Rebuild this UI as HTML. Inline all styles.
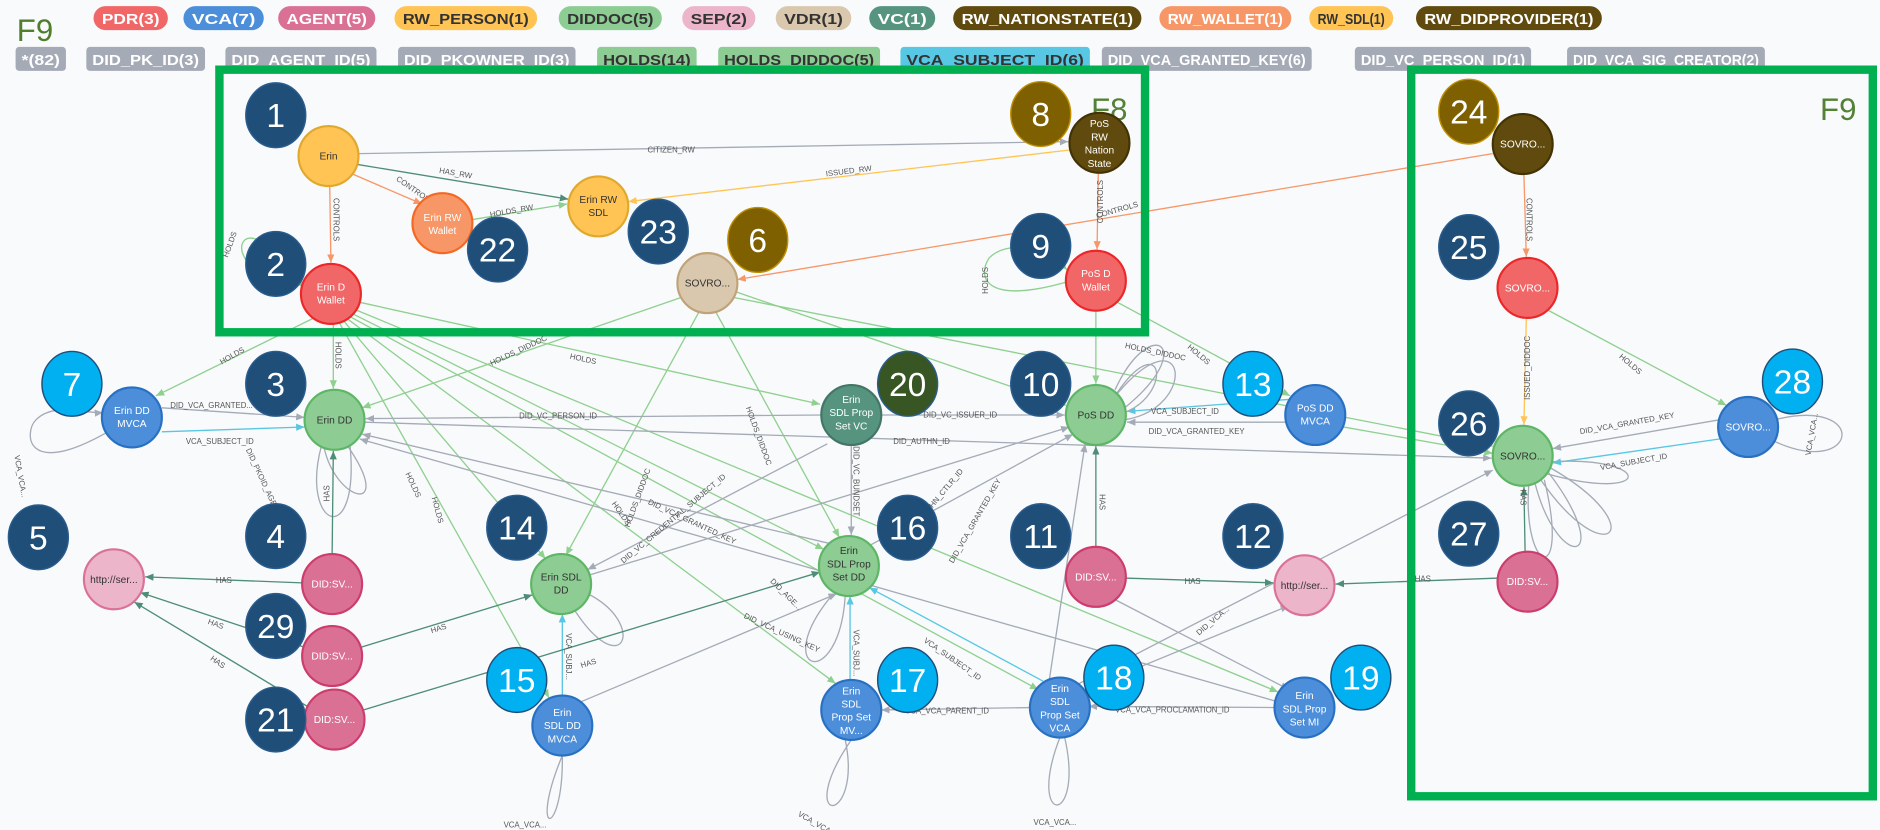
<!DOCTYPE html>
<html><head><meta charset="utf-8"><style>
html,body{margin:0;padding:0;background:#f8fafc;}
svg{display:block;font-family:"Liberation Sans",sans-serif;}
.bd text{font-size:12px;font-weight:bold;}
.e{fill:none;stroke-width:1.1;}
.g{stroke:#8fd08f;} .gr{stroke:#a5abb6;} .t{stroke:#4e8d76;} .o{stroke:#f79767;} .y{stroke:#ffc454;} .b{stroke:#57c7e3;}
.l{font-size:6.5px;fill:#555;}
.n text{font-size:8.5px;text-anchor:middle;}
.num text{font-size:28px;fill:#fff;text-anchor:middle;}
</style></head><body>
<svg width="1880" height="830" viewBox="0 0 1568 692" xmlns="http://www.w3.org/2000/svg">
<defs>
<marker id="ag" markerWidth="8" markerHeight="8" refX="7" refY="3" orient="auto" markerUnits="userSpaceOnUse"><path d="M0,0L7,3L0,6z" fill="#8fd08f"/></marker>
<marker id="agr" markerWidth="8" markerHeight="8" refX="7" refY="3" orient="auto" markerUnits="userSpaceOnUse"><path d="M0,0L7,3L0,6z" fill="#a5abb6"/></marker>
<marker id="at" markerWidth="8" markerHeight="8" refX="7" refY="3" orient="auto" markerUnits="userSpaceOnUse"><path d="M0,0L7,3L0,6z" fill="#4e8d76"/></marker>
<marker id="ao" markerWidth="8" markerHeight="8" refX="7" refY="3" orient="auto" markerUnits="userSpaceOnUse"><path d="M0,0L7,3L0,6z" fill="#f79767"/></marker>
<marker id="ay" markerWidth="8" markerHeight="8" refX="7" refY="3" orient="auto" markerUnits="userSpaceOnUse"><path d="M0,0L7,3L0,6z" fill="#ffc454"/></marker>
<marker id="ab" markerWidth="8" markerHeight="8" refX="7" refY="3" orient="auto" markerUnits="userSpaceOnUse"><path d="M0,0L7,3L0,6z" fill="#57c7e3"/></marker>
</defs>
<rect width="1568" height="692" fill="#f8fafc"/>
<text x="14" y="34" font-size="26" fill="#4f7f2a">F9</text>
<!-- badges -->
<g class="bd">
<rect x="78" y="5" width="62" height="20" rx="10" fill="#f16667"/><text x="85" y="20" fill="#fff" textLength="48" lengthAdjust="spacingAndGlyphs">PDR(3)</text>
<rect x="153" y="5" width="67" height="20" rx="10" fill="#4c8eda"/><text x="160" y="20" fill="#fff" textLength="53" lengthAdjust="spacingAndGlyphs">VCA(7)</text>
<rect x="232" y="5" width="81" height="20" rx="10" fill="#da7194"/><text x="239" y="20" fill="#fff" textLength="67" lengthAdjust="spacingAndGlyphs">AGENT(5)</text>
<rect x="329" y="5" width="119" height="20" rx="10" fill="#ffc454"/><text x="336" y="20" fill="#333" textLength="105" lengthAdjust="spacingAndGlyphs">RW_PERSON(1)</text>
<rect x="466" y="5" width="86" height="20" rx="10" fill="#8dcc93"/><text x="473" y="20" fill="#333" textLength="72" lengthAdjust="spacingAndGlyphs">DIDDOC(5)</text>
<rect x="569" y="5" width="61" height="20" rx="10" fill="#ecb5c9"/><text x="576" y="20" fill="#333" textLength="47" lengthAdjust="spacingAndGlyphs">SEP(2)</text>
<rect x="647" y="5" width="63" height="20" rx="10" fill="#d9c8ae"/><text x="654" y="20" fill="#333" textLength="49" lengthAdjust="spacingAndGlyphs">VDR(1)</text>
<rect x="725" y="5" width="55" height="20" rx="10" fill="#569480"/><text x="732" y="20" fill="#fff" textLength="41" lengthAdjust="spacingAndGlyphs">VC(1)</text>
<rect x="795" y="5" width="157" height="20" rx="10" fill="#604a0e"/><text x="802" y="20" fill="#fff" textLength="143" lengthAdjust="spacingAndGlyphs">RW_NATIONSTATE(1)</text>
<rect x="967" y="5" width="110" height="20" rx="10" fill="#f79767"/><text x="974" y="20" fill="#fff" textLength="96" lengthAdjust="spacingAndGlyphs">RW_WALLET(1)</text>
<rect x="1092" y="5" width="70" height="20" rx="10" fill="#ffc454"/><text x="1099" y="20" fill="#333" textLength="56" lengthAdjust="spacingAndGlyphs">RW_SDL(1)</text>
<rect x="1181" y="5" width="155" height="20" rx="10" fill="#604a0e"/><text x="1188" y="20" fill="#fff" textLength="141" lengthAdjust="spacingAndGlyphs">RW_DIDPROVIDER(1)</text>
<rect x="13" y="39" width="42" height="20" rx="3" fill="#a5abb6"/><text x="18" y="54" fill="#fff" textLength="32" lengthAdjust="spacingAndGlyphs">*(82)</text>
<rect x="72" y="39" width="99" height="20" rx="3" fill="#a5abb6"/><text x="77" y="54" fill="#fff" textLength="89" lengthAdjust="spacingAndGlyphs">DID_PK_ID(3)</text>
<rect x="188" y="39" width="126" height="20" rx="3" fill="#a5abb6"/><text x="193" y="54" fill="#fff" textLength="116" lengthAdjust="spacingAndGlyphs">DID_AGENT_ID(5)</text>
<rect x="332" y="39" width="148" height="20" rx="3" fill="#a5abb6"/><text x="337" y="54" fill="#fff" textLength="138" lengthAdjust="spacingAndGlyphs">DID_PKOWNER_ID(3)</text>
<rect x="498" y="39" width="83" height="20" rx="3" fill="#8dcc93"/><text x="503" y="54" fill="#333" textLength="73" lengthAdjust="spacingAndGlyphs">HOLDS(14)</text>
<rect x="599" y="39" width="135" height="20" rx="3" fill="#8dcc93"/><text x="604" y="54" fill="#333" textLength="125" lengthAdjust="spacingAndGlyphs">HOLDS_DIDDOC(5)</text>
<rect x="751" y="39" width="158" height="20" rx="3" fill="#57c7e3"/><text x="756" y="54" fill="#333" textLength="148" lengthAdjust="spacingAndGlyphs">VCA_SUBJECT_ID(6)</text>
<rect x="919" y="39" width="175" height="20" rx="3" fill="#a5abb6"/><text x="924" y="54" fill="#fff" textLength="165" lengthAdjust="spacingAndGlyphs">DID_VCA_GRANTED_KEY(6)</text>
<rect x="1130" y="39" width="147" height="20" rx="3" fill="#a5abb6"/><text x="1135" y="54" fill="#fff" textLength="137" lengthAdjust="spacingAndGlyphs">DID_VC_PERSON_ID(1)</text>
<rect x="1307" y="39" width="165" height="20" rx="3" fill="#a5abb6"/><text x="1312" y="54" fill="#fff" textLength="155" lengthAdjust="spacingAndGlyphs">DID_VCA_SIG_CREATOR(2)</text>
</g>
<!-- edges -->
<g class="e">
<line class="gr" x1="299" y1="128" x2="891" y2="118" marker-end="url(#agr)"/>
<line class="t" x1="298" y1="137" x2="474" y2="166" marker-end="url(#at)"/>
<line class="o" x1="294" y1="145" x2="352" y2="170" marker-end="url(#ao)"/>
<line class="o" x1="275" y1="155" x2="276" y2="219" marker-end="url(#ao)"/>
<line class="g" x1="394" y1="183" x2="473" y2="170" marker-end="url(#ag)"/>
<line class="y" x1="892" y1="125" x2="524" y2="168" marker-end="url(#ay)"/>
<line class="o" x1="916" y1="145" x2="915" y2="208" marker-end="url(#ao)"/>
<line class="o" x1="1245" y1="128" x2="615" y2="233" marker-end="url(#ao)"/>
<path class="g" d="M252,238 C190,230 195,190 215,200 C225,205 240,220 253,240" marker-end="url(#ag)"/>
<path class="g" d="M890,235 C820,255 815,230 825,215 C840,200 870,205 890,225" marker-end="url(#ag)"/>
<line class="g" x1="262" y1="265" x2="130" y2="330" marker-end="url(#ag)"/>
<line class="g" x1="278" y1="270" x2="278" y2="324" marker-end="url(#ag)"/>
<line class="g" x1="300" y1="252" x2="684" y2="337" marker-end="url(#ag)"/>
<line class="g" x1="295" y1="262" x2="687" y2="458" marker-end="url(#ag)"/>
<line class="g" x1="290" y1="266" x2="697" y2="570" marker-end="url(#ag)"/>
<line class="g" x1="292" y1="264" x2="866" y2="575" marker-end="url(#ag)"/>
<line class="g" x1="296" y1="258" x2="1066" y2="577" marker-end="url(#ag)"/>
<line class="g" x1="283" y1="269" x2="458" y2="582" marker-end="url(#ag)"/>
<line class="g" x1="287" y1="268" x2="455" y2="466" marker-end="url(#ag)"/>
<line class="g" x1="568" y1="248" x2="302" y2="340" marker-end="url(#ag)"/>
<line class="g" x1="583" y1="260" x2="472" y2="463" marker-end="url(#ag)"/>
<line class="g" x1="597" y1="260" x2="700" y2="448" marker-end="url(#ag)"/>
<line class="g" x1="613" y1="243" x2="889" y2="338" marker-end="url(#ag)"/>
<line class="g" x1="612" y1="248" x2="1245" y2="372" marker-end="url(#ag)"/>
<line class="g" x1="914" y1="259" x2="914" y2="320" marker-end="url(#ag)"/>
<line class="g" x1="932" y1="252" x2="1076" y2="330" marker-end="url(#ag)"/>
<line class="gr" x1="135" y1="340" x2="254" y2="348" marker-end="url(#agr)"/>
<line class="b" x1="135" y1="360" x2="254" y2="356" marker-end="url(#ab)"/>
<line class="gr" x1="686" y1="346" x2="305" y2="349" marker-end="url(#agr)"/>
<line class="gr" x1="735" y1="346" x2="888" y2="346" marker-end="url(#agr)"/>
<line class="gr" x1="304" y1="352" x2="1244" y2="382" marker-end="url(#agr)"/>
<line class="gr" x1="1073" y1="352" x2="940" y2="352" marker-end="url(#agr)"/>
<line class="b" x1="1075" y1="333" x2="940" y2="343" marker-end="url(#ab)"/>
<line class="gr" x1="700" y1="455" x2="302" y2="362" marker-end="url(#agr)"/>
<line class="gr" x1="1065" y1="585" x2="300" y2="366" marker-end="url(#agr)"/>
<line class="gr" x1="690" y1="370" x2="490" y2="475" marker-end="url(#agr)"/>
<line class="gr" x1="490" y1="480" x2="892" y2="356" marker-end="url(#agr)"/>
<line class="gr" x1="725" y1="455" x2="895" y2="362" marker-end="url(#agr)"/>
<line class="gr" x1="875" y1="568" x2="905" y2="370" marker-end="url(#agr)"/>
<line class="gr" x1="710" y1="371" x2="710" y2="446" marker-end="url(#agr)"/>
<line class="gr" x1="485" y1="585" x2="698" y2="495" marker-end="url(#agr)"/>
<line class="gr" x1="900" y1="570" x2="1245" y2="392" marker-end="url(#agr)"/>
<line class="gr" x1="905" y1="575" x2="1075" y2="505" marker-end="url(#agr)"/>
<line class="gr" x1="930" y1="500" x2="1075" y2="575" marker-end="url(#agr)"/>
<line class="gr" x1="1064" y1="590" x2="908" y2="589" marker-end="url(#agr)"/>
<line class="gr" x1="860" y1="590" x2="735" y2="592" marker-end="url(#agr)"/>
<line class="b" x1="870" y1="568" x2="725" y2="490" marker-end="url(#ab)"/>
<line class="b" x1="709" y1="567" x2="709" y2="497" marker-end="url(#ab)"/>
<line class="b" x1="469" y1="580" x2="469" y2="512" marker-end="url(#ab)"/>
<line class="gr" x1="1434" y1="350" x2="1295" y2="374" marker-end="url(#agr)"/>
<line class="b" x1="1434" y1="366" x2="1295" y2="386" marker-end="url(#ab)"/>
<path class="gr" d="M90,360 C20,400 20,360 30,350 C45,335 70,345 86,344" marker-end="url(#agr)"/>
<path class="gr" d="M469,630 C440,700 470,700 469,630"/>
<path class="gr" d="M710,617 C660,690 720,690 705,617"/>
<path class="gr" d="M884,615 C855,690 905,690 888,615"/>
<path class="gr" d="M1480,350 C1560,330 1550,400 1480,368"/>
<path class="gr" d="M290,372 C330,430 280,420 270,372"/>
<path class="gr" d="M292,372 C300,460 250,440 268,372"/>
<path class="gr" d="M930,330 C970,270 980,330 935,345"/>
<path class="gr" d="M932,328 C990,260 1000,340 938,350"/>
<path class="gr" d="M930,325 C960,260 1000,290 938,340"/>
<path class="gr" d="M1290,392 C1350,470 1300,480 1280,402"/>
<path class="gr" d="M1293,390 C1380,440 1340,480 1285,400"/>
<path class="gr" d="M1294,385 C1380,380 1380,420 1290,395"/>
<path class="gr" d="M1288,400 C1310,490 1270,480 1275,405"/>
<path class="gr" d="M490,495 C540,520 520,570 480,510"/>
<path class="gr" d="M695,495 C640,560 700,580 705,496"/>
<line class="t" x1="277" y1="462" x2="278" y2="376" marker-end="url(#at)"/>
<line class="t" x1="252" y1="486" x2="121" y2="481" marker-end="url(#at)"/>
<line class="t" x1="255" y1="540" x2="117" y2="494" marker-end="url(#at)"/>
<line class="t" x1="300" y1="540" x2="444" y2="496" marker-end="url(#at)"/>
<line class="t" x1="258" y1="590" x2="112" y2="502" marker-end="url(#at)"/>
<line class="t" x1="303" y1="592" x2="684" y2="477" marker-end="url(#at)"/>
<line class="t" x1="914" y1="456" x2="914" y2="372" marker-end="url(#at)"/>
<line class="t" x1="938" y1="482" x2="1062" y2="486" marker-end="url(#at)"/>
<line class="t" x1="1250" y1="482" x2="1114" y2="487" marker-end="url(#at)"/>
<line class="t" x1="1272" y1="460" x2="1271" y2="406" marker-end="url(#at)"/>
<line class="o" x1="1271" y1="145" x2="1273" y2="214" marker-end="url(#ao)"/>
<line class="y" x1="1273" y1="266" x2="1271" y2="354" marker-end="url(#ay)"/>
<line class="g" x1="1290" y1="258" x2="1440" y2="338" marker-end="url(#ag)"/>
<line class="g" x1="1115" y1="355" x2="1245" y2="378" marker-end="url(#ag)"/>
</g>
<g class="l">
<text x="540" y="127">CITIZEN_RW</text>
<text x="366" y="144" transform="rotate(10 366 144)">HAS_RW</text>
<text x="330" y="150" transform="rotate(35 330 150)">CONTROLS</text>
<text x="278" y="165" transform="rotate(90 278 165)">CONTROLS</text>
<text x="409" y="181" transform="rotate(-10 409 181)">HOLDS_RW</text>
<text x="689" y="147" transform="rotate(-7 689 147)">ISSUED_RW</text>
<text x="920" y="150" transform="rotate(-90 920 150)" text-anchor="end">CONTROLS</text>
<text x="915" y="182" transform="rotate(-16 915 182)">CONTROLS</text>
<text x="190" y="215" transform="rotate(-70 190 215)">HOLDS</text>
<text x="824" y="245" transform="rotate(-90 824 245)">HOLDS</text>
<text x="185" y="304" transform="rotate(-30 185 304)">HOLDS</text>
<text x="280" y="285" transform="rotate(90 280 285)">HOLDS</text>
<text x="410" y="305" transform="rotate(-25 410 305)">HOLDS_DIDDOC</text>
<text x="475" y="299" transform="rotate(12 475 299)">HOLDS</text>
<text x="142" y="340">DID_VCA_GRANTED...</text>
<text x="155" y="370">VCA_SUBJECT_ID</text>
<text x="433" y="349">DID_VC_PERSON_ID</text>
<text x="770" y="348">DID_VC_ISSUER_ID</text>
<text x="745" y="370">DID_AUTHN_ID</text>
<text x="958" y="362">DID_VCA_GRANTED_KEY</text>
<text x="1318" y="362" transform="rotate(-10 1318 362)">DID_VCA_GRANTED_KEY</text>
<text x="1335" y="392" transform="rotate(-10 1335 392)">VCA_SUBJECT_ID</text>
<text x="1273" y="165" transform="rotate(90 1273 165)">CONTROLS</text>
<text x="1276" y="280" transform="rotate(-90 1276 280)" text-anchor="end">ISSUED_DIDDOC</text>
<text x="1350" y="298" transform="rotate(40 1350 298)">HOLDS</text>
<text x="1268" y="408" transform="rotate(90 1268 408)">HAS</text>
<text x="275" y="418" transform="rotate(-90 275 418)">HAS</text>
<text x="180" y="486">HAS</text>
<text x="173" y="520" transform="rotate(20 173 520)">HAS</text>
<text x="175" y="550" transform="rotate(35 175 550)">HAS</text>
<text x="360" y="528" transform="rotate(-17 360 528)">HAS</text>
<text x="485" y="557" transform="rotate(-17 485 557)">HAS</text>
<text x="988" y="487">HAS</text>
<text x="917" y="412" transform="rotate(90 917 412)">HAS</text>
<text x="1180" y="485">HAS</text>
<text x="338" y="395" transform="rotate(65 338 395)">HOLDS</text>
<text x="360" y="415" transform="rotate(75 360 415)">HOLDS</text>
<text x="510" y="420" transform="rotate(55 510 420)">HOLDS</text>
<text x="525" y="440" transform="rotate(-70 525 440)">HOLDS_DIDDOC</text>
<text x="622" y="340" transform="rotate(70 622 340)">HOLDS_DIDDOC</text>
<text x="520" y="470" transform="rotate(-40 520 470)">DID_VC_CREDENTIAL_SUBJECT_ID</text>
<text x="540" y="420" transform="rotate(25 540 420)">DID_VCA_GRANTED_KEY</text>
<text x="620" y="515" transform="rotate(25 620 515)">DID_VCA_USING_KEY</text>
<text x="760" y="445" transform="rotate(-50 760 445)">DID_AUTHN_CTLR_ID</text>
<text x="795" y="470" transform="rotate(-60 795 470)">DID_VCA_GRANTED_KEY</text>
<text x="712" y="372" transform="rotate(90 712 372)">DID_VC_BUNDSET</text>
<text x="712" y="525" transform="rotate(90 712 525)">VCA_SUBJ...</text>
<text x="472" y="528" transform="rotate(90 472 528)">VCA_SUBJ...</text>
<text x="770" y="535" transform="rotate(35 770 535)">VCA_SUBJECT_ID</text>
<text x="755" y="595">VCA_VCA_PARENT_ID</text>
<text x="930" y="594">VCA_VCA_PROCLAMATION_ID</text>
<text x="1000" y="530" transform="rotate(-40 1000 530)">DID_VCA...</text>
<text x="938" y="290" transform="rotate(12 938 290)">HOLDS_DIDDOC</text>
<text x="990" y="290" transform="rotate(40 990 290)">HOLDS</text>
<text x="960" y="345">VCA_SUBJECT_ID</text>
<text x="12" y="380" transform="rotate(80 12 380)">VCA_VCA...</text>
<text x="1510" y="380" transform="rotate(-80 1510 380)">VCA_VCA...</text>
<text x="420" y="690">VCA_VCA...</text>
<text x="665" y="680" transform="rotate(30 665 680)">VCA_VCA...</text>
<text x="862" y="688">VCA_VCA...</text>
<text x="205" y="375" transform="rotate(65 205 375)">DID_PKOID_AGE</text>
<text x="642" y="485" transform="rotate(45 642 485)">DID_AGE...</text>
</g>
<rect x="183" y="58" width="772" height="219" fill="none" stroke="#00b050" stroke-width="7"/>
<rect x="1177" y="58" width="385" height="606" fill="none" stroke="#00b050" stroke-width="7"/>
<text x="910" y="100" font-size="26" fill="#538135">F8</text>
<text x="1518" y="100" font-size="26" fill="#538135">F9</text>
<g class="n" stroke-width="1.8">
<circle cx="274" cy="130" r="25" fill="#ffc454" stroke="#e0a92e"/><text x="274" y="133" fill="#333" stroke="none">Erin</text>
<circle cx="276" cy="245" r="25" fill="#f16667" stroke="#eb2728"/><text x="276" y="242" fill="#fff" stroke="none">Erin D</text><text x="276" y="253" fill="#fff" stroke="none">Wallet</text>
<circle cx="369" cy="186" r="25" fill="#f79767" stroke="#f36924"/><text x="369" y="184" fill="#fff" stroke="none">Erin RW</text><text x="369" y="195" fill="#fff" stroke="none">Wallet</text>
<circle cx="499" cy="172" r="25" fill="#ffc454" stroke="#e0a92e"/><text x="499" y="169" fill="#333" stroke="none">Erin RW</text><text x="499" y="180" fill="#333" stroke="none">SDL</text>
<circle cx="590" cy="236" r="25" fill="#d9c8ae" stroke="#c0a378"/><text x="590" y="239" fill="#333" stroke="none">SOVRO...</text>
<circle cx="917" cy="119" r="25" fill="#604a0e" stroke="#423204"/><text x="917" y="106" fill="#fff" stroke="none">PoS</text><text x="917" y="117" fill="#fff" stroke="none">RW</text><text x="917" y="128" fill="#fff" stroke="none">Nation</text><text x="917" y="139" fill="#fff" stroke="none">State</text>
<circle cx="914" cy="234" r="25" fill="#f16667" stroke="#eb2728"/><text x="914" y="231" fill="#fff" stroke="none">PoS D</text><text x="914" y="242" fill="#fff" stroke="none">Wallet</text>
<circle cx="110" cy="348" r="25" fill="#4c8eda" stroke="#2870c2"/><text x="110" y="345" fill="#fff" stroke="none">Erin DD</text><text x="110" y="356" fill="#fff" stroke="none">MVCA</text>
<circle cx="279" cy="350" r="25" fill="#8dcc93" stroke="#5db665"/><text x="279" y="353" fill="#333" stroke="none">Erin DD</text>
<circle cx="710" cy="346" r="25" fill="#569480" stroke="#447666"/><text x="710" y="336" fill="#fff" stroke="none">Erin</text><text x="710" y="347" fill="#fff" stroke="none">SDL Prop</text><text x="710" y="358" fill="#fff" stroke="none">Set VC</text>
<circle cx="914" cy="346" r="25" fill="#8dcc93" stroke="#5db665"/><text x="914" y="349" fill="#333" stroke="none">PoS DD</text>
<circle cx="1097" cy="346" r="25" fill="#4c8eda" stroke="#2870c2"/><text x="1097" y="343" fill="#fff" stroke="none">PoS DD</text><text x="1097" y="354" fill="#fff" stroke="none">MVCA</text>
<circle cx="1270" cy="120" r="25" fill="#604a0e" stroke="#423204"/><text x="1270" y="123" fill="#fff" stroke="none">SOVRO...</text>
<circle cx="1274" cy="240" r="25" fill="#f16667" stroke="#eb2728"/><text x="1274" y="243" fill="#fff" stroke="none">SOVRO...</text>
<circle cx="1270" cy="380" r="25" fill="#8dcc93" stroke="#5db665"/><text x="1270" y="383" fill="#333" stroke="none">SOVRO...</text>
<circle cx="1458" cy="356" r="25" fill="#4c8eda" stroke="#2870c2"/><text x="1458" y="359" fill="#fff" stroke="none">SOVRO...</text>
<circle cx="1274" cy="485" r="25" fill="#da7194" stroke="#cc3c6c"/><text x="1274" y="488" fill="#fff" stroke="none">DID:SV...</text>
<circle cx="95" cy="483" r="25" fill="#ecb5c9" stroke="#da7298"/><text x="95" y="486" fill="#333" stroke="none">http://ser...</text>
<circle cx="277" cy="487" r="25" fill="#da7194" stroke="#cc3c6c"/><text x="277" y="490" fill="#fff" stroke="none">DID:SV...</text>
<circle cx="277" cy="547" r="25" fill="#da7194" stroke="#cc3c6c"/><text x="277" y="550" fill="#fff" stroke="none">DID:SV...</text>
<circle cx="279" cy="600" r="25" fill="#da7194" stroke="#cc3c6c"/><text x="279" y="603" fill="#fff" stroke="none">DID:SV...</text>
<circle cx="468" cy="487" r="25" fill="#8dcc93" stroke="#5db665"/><text x="468" y="484" fill="#333" stroke="none">Erin SDL</text><text x="468" y="495" fill="#333" stroke="none">DD</text>
<circle cx="469" cy="605" r="25" fill="#4c8eda" stroke="#2870c2"/><text x="469" y="597" fill="#fff" stroke="none">Erin</text><text x="469" y="608" fill="#fff" stroke="none">SDL DD</text><text x="469" y="619" fill="#fff" stroke="none">MVCA</text>
<circle cx="708" cy="472" r="25" fill="#8dcc93" stroke="#5db665"/><text x="708" y="462" fill="#333" stroke="none">Erin</text><text x="708" y="473" fill="#333" stroke="none">SDL Prop</text><text x="708" y="484" fill="#333" stroke="none">Set DD</text>
<circle cx="710" cy="592" r="25" fill="#4c8eda" stroke="#2870c2"/><text x="710" y="579" fill="#fff" stroke="none">Erin</text><text x="710" y="590" fill="#fff" stroke="none">SDL</text><text x="710" y="601" fill="#fff" stroke="none">Prop Set</text><text x="710" y="612" fill="#fff" stroke="none">MV...</text>
<circle cx="884" cy="590" r="25" fill="#4c8eda" stroke="#2870c2"/><text x="884" y="577" fill="#fff" stroke="none">Erin</text><text x="884" y="588" fill="#fff" stroke="none">SDL</text><text x="884" y="599" fill="#fff" stroke="none">Prop Set</text><text x="884" y="610" fill="#fff" stroke="none">VCA</text>
<circle cx="1088" cy="590" r="25" fill="#4c8eda" stroke="#2870c2"/><text x="1088" y="583" fill="#fff" stroke="none">Erin</text><text x="1088" y="594" fill="#fff" stroke="none">SDL Prop</text><text x="1088" y="605" fill="#fff" stroke="none">Set MI</text>
<circle cx="914" cy="481" r="25" fill="#da7194" stroke="#cc3c6c"/><text x="914" y="484" fill="#fff" stroke="none">DID:SV...</text>
<circle cx="1088" cy="488" r="25" fill="#ecb5c9" stroke="#da7298"/><text x="1088" y="491" fill="#333" stroke="none">http://ser...</text>
</g>
<g class="num" stroke-width="1.2">
<g fill="#1f4e79" stroke="#2a5d8f">
<ellipse cx="230" cy="96" rx="25" ry="27"/><ellipse cx="230" cy="220" rx="25" ry="27"/><ellipse cx="415" cy="208" rx="25" ry="27"/><ellipse cx="549" cy="193" rx="25" ry="27"/><ellipse cx="868" cy="205" rx="25" ry="27"/><ellipse cx="230" cy="320" rx="25" ry="27"/><ellipse cx="868" cy="320" rx="25" ry="27"/><ellipse cx="1225" cy="206" rx="25" ry="27"/><ellipse cx="1225" cy="353" rx="25" ry="27"/><ellipse cx="1225" cy="445" rx="25" ry="27"/><ellipse cx="32" cy="448" rx="25" ry="27"/><ellipse cx="230" cy="447" rx="25" ry="27"/><ellipse cx="431" cy="440" rx="25" ry="27"/><ellipse cx="757" cy="440" rx="25" ry="27"/><ellipse cx="868" cy="447" rx="25" ry="27"/><ellipse cx="1045" cy="447" rx="25" ry="27"/><ellipse cx="230" cy="522" rx="25" ry="27"/><ellipse cx="230" cy="600" rx="25" ry="27"/>
</g>
<g fill="#7f6000" stroke="#bf9000"><ellipse cx="632" cy="200" rx="25" ry="27"/><ellipse cx="868" cy="95" rx="25" ry="27"/><ellipse cx="1225" cy="93" rx="25" ry="27"/></g>
<g fill="#00b0f0" stroke="#1f4e79"><ellipse cx="60" cy="320" rx="25" ry="27"/><ellipse cx="1045" cy="320" rx="25" ry="27"/><ellipse cx="1495" cy="318" rx="25" ry="27"/><ellipse cx="431" cy="567" rx="25" ry="27"/><ellipse cx="757" cy="567" rx="25" ry="27"/><ellipse cx="929" cy="565" rx="25" ry="27"/><ellipse cx="1135" cy="565" rx="25" ry="27"/></g>
<ellipse cx="757" cy="320" rx="25" ry="27" fill="#375623" stroke="#2a5d8f"/>
<g stroke="none">
<text x="230" y="106">1</text><text x="230" y="230">2</text><text x="415" y="218">22</text><text x="549" y="203">23</text><text x="868" y="215">9</text><text x="230" y="330">3</text><text x="868" y="330">10</text><text x="1225" y="216">25</text><text x="1225" y="363">26</text><text x="1225" y="455">27</text><text x="32" y="458">5</text><text x="230" y="457">4</text><text x="431" y="450">14</text><text x="757" y="450">16</text><text x="868" y="457">11</text><text x="1045" y="457">12</text><text x="230" y="532">29</text><text x="230" y="610">21</text>
<text x="632" y="210">6</text><text x="868" y="105">8</text><text x="1225" y="103">24</text>
<text x="60" y="330">7</text><text x="1045" y="330">13</text><text x="1495" y="328">28</text><text x="431" y="577">15</text><text x="757" y="577">17</text><text x="929" y="575">18</text><text x="1135" y="575">19</text><text x="757" y="330">20</text>
</g>
</g>
</svg>
</body></html>
